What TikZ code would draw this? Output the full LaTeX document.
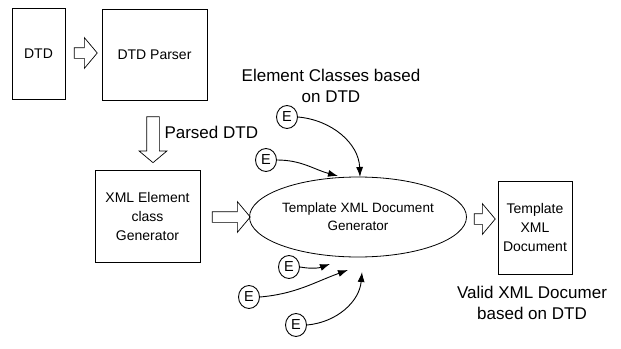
\documentclass[tikz,border=0pt]{standalone}
\usepackage{fontspec}
\setmainfont{Liberation Sans}
\usetikzlibrary{shapes.geometric,shapes.arrows,arrows.meta}

\begin{document}
\begin{tikzpicture}[x=1pt,y=-1pt,
  box/.style={draw,line width=0.8pt,align=center,inner sep=2pt,font=\fontsize{14}{19}\selectfont},
  fat/.style={single arrow,draw,line width=0.7pt,inner sep=5pt,single arrow head extend=10pt,single arrow tip angle=100,minimum width=30pt},
  ebub/.style={ellipse,draw,line width=0.9pt,inner sep=0pt,minimum width=21pt,minimum height=23pt,font=\fontsize{14.5}{14.5}\selectfont},
  eline/.style={line width=0.9pt,-{Latex[length=10pt,width=7pt]}},
  lbl/.style={align=center,font=\fontsize{17}{21}\selectfont}]
\useasboundingbox (0,0) rectangle (621,348);

% Boxes
\node[box,minimum width=53pt,minimum height=91pt] (dtd) at (38.5,53.5) {DTD};
\node[box,minimum width=105pt,minimum height=91pt] (parser) at (154.5,54.5) {DTD Parser};
\node[box,minimum width=105pt,minimum height=92pt] (xmlgen) at (147.5,216) {XML Element\\class\\Generator};
\node[box,ellipse,inner sep=0pt,minimum width=217pt,minimum height=80pt,font=\fontsize{13.5}{18}\selectfont] (gen) at (358,217) {Template XML Document\\Generator};
\node[box,minimum width=74pt,minimum height=93pt] (tdoc) at (535,227.5) {Template\\XML\\Document};

% Block arrows
\node[fat,minimum height=23pt] (a1) at (83.5,53) {};
\node[fat,shape border rotate=270,inner sep=6pt,single arrow head extend=7.5pt,minimum width=27pt,minimum height=46pt] (a2) at (153,137) {};
\node[fat,minimum height=38pt] (a3) at (229,217) {};
\node[fat,minimum height=21pt] (a4) at (482.5,219) {};

% Labels
\node[lbl,anchor=west] (pdtd) at (161,132) {Parsed DTD};
\node[lbl] (ecls) at (331,86) {Element Classes based\\on DTD};
\node[lbl] (valid) at (532,303) {Valid XML Documer\\based on DTD};

% Element classes
\node[ebub] (e1) at (287,117) {E};
\node[ebub] (e2) at (266,160) {E};
\node[ebub] (e3) at (289,267) {E};
\node[ebub] (e4) at (249,297) {E};
\node[ebub] (e5) at (296,325) {E};

\coordinate (t1) at (360,177);
\coordinate (t2) at (338,176);
\coordinate (t3) at (330,264);
\coordinate (t4) at (348,270);
\coordinate (t5) at (362,272);

\draw[eline] (e1.east) to[out=-5,in=92] (t1);
\draw[eline] (e2.east) to[out=0,in=165] (t2);
\draw[eline] (e3.east) to[out=-10,in=200] (t3);
\draw[eline] (e4.east) to[out=5,in=200] (t4);
\draw[eline] (e5.east) to[out=5,in=-95] (t5);
\end{tikzpicture}
\end{document}
